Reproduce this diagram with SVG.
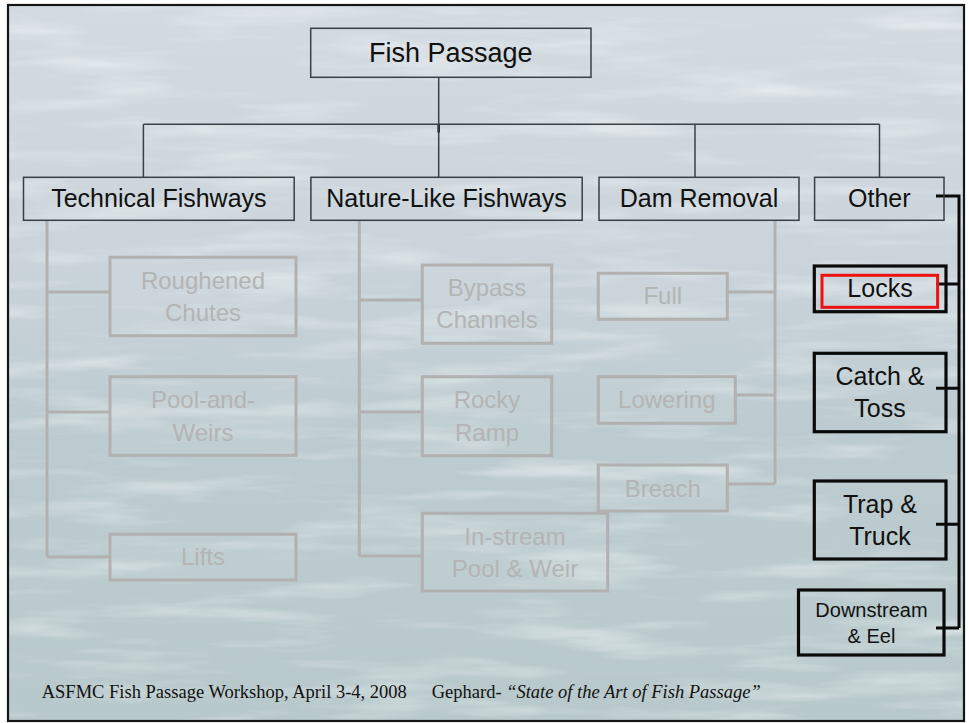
<svg xmlns="http://www.w3.org/2000/svg" width="969" height="723" viewBox="0 0 969 723">
  <defs>
    <linearGradient id="water" x1="0" y1="0" x2="0" y2="1">
      <stop offset="0" stop-color="#d3dbe1"/>
      <stop offset="0.35" stop-color="#cad4da"/>
      <stop offset="0.6" stop-color="#bccbcf"/>
      <stop offset="1" stop-color="#b8c9cb"/>
    </linearGradient>
    <filter id="ripple" x="0" y="0" width="100%" height="100%">
      <feTurbulence type="fractalNoise" baseFrequency="0.006 0.05" numOctaves="4" seed="7" result="n"/>
      <feColorMatrix in="n" type="matrix" values="0 0 0 0 1  0 0 0 0 1  0 0 0 0 1  0 0 0 2.2 -1.05" result="a"/>
      <feComposite in="a" in2="SourceGraphic" operator="in"/>
    </filter>
    <style>
      .top rect { fill: none; stroke: #3a3f44; stroke-width: 1.5; }
      .top text { font-family: "Liberation Sans", Arial, sans-serif; font-size: 25px; fill: #111; text-anchor: middle; }
      .gray rect { fill: #ffffff; fill-opacity: 0.06; stroke: #b1b1b1; stroke-width: 3; }
      .gray text { font-family: "Liberation Sans", Arial, sans-serif; font-size: 24px; fill: #b4b4b4; text-anchor: middle; }
      .blk rect { fill: none; stroke: #0a0a0a; stroke-width: 3.2; }
      .blk text { font-family: "Liberation Sans", Arial, sans-serif; font-size: 25px; fill: #111; text-anchor: middle; }
      .thin { stroke: #3a3f44; stroke-width: 1.5; fill: none; }
      .gline { stroke: #b1b1b1; stroke-width: 3; fill: none; }
      .bline { stroke: #0a0a0a; stroke-width: 3; fill: none; }
      .foot { font-family: "Liberation Serif", "Times New Roman", serif; font-size: 18.5px; fill: #111; }
    </style>
  </defs>

  <g id="background">
    <rect x="0" y="0" width="969" height="723" fill="#ffffff"/>
    <rect x="8" y="5" width="956" height="716" fill="url(#water)"/>
    <rect x="8" y="5" width="956" height="716" fill="#ffffff" opacity="0.45" filter="url(#ripple)"/>
    <rect x="8" y="5" width="956" height="716" fill="none" stroke="#151515" stroke-width="2.2"/>
  </g>

  <g id="connectors">
    <line class="thin" x1="438.7" y1="77.3" x2="438.7" y2="124.3"/>
    <line x1="438.7" y1="124.3" x2="438.7" y2="132.5" stroke="#111" stroke-width="2.5"/>
    <line class="thin" x1="143.4" y1="124.3" x2="879.5" y2="124.3"/>
    <line class="thin" x1="143.4" y1="124.3" x2="143.4" y2="177.3"/>
    <line class="thin" x1="438.7" y1="124.3" x2="438.7" y2="177.3"/>
    <line class="thin" x1="695" y1="124.3" x2="695" y2="177.3"/>
    <line class="thin" x1="879.5" y1="124.3" x2="879.5" y2="177.3"/>

    <path class="gline" d="M47 220.5 V557 M47 292 H110 M47 412 H110 M47 557 H110"/>
    <path class="gline" d="M359.3 220.5 V556 M359.3 300 H422.3 M359.3 412 H422.3 M359.3 556 H422.3"/>
    <path class="gline" d="M775 220.5 V484 M727.3 292 H775 M735.3 395 H775 M727.3 484 H775"/>

    <path class="bline" d="M936 196 H959 V628 M936 284 H959 M936 388.3 H959 M936 524.3 H959 M936 628 H959"/>
  </g>

  <g id="node-fish-passage" class="top">
    <rect x="310.7" y="28.3" width="280.3" height="49"/>
    <text x="450.8" y="62.3" style="font-size:27px">Fish Passage</text>
  </g>
  <g id="node-technical" class="top">
    <rect x="23.5" y="177.3" width="270.7" height="43"/>
    <text x="158.9" y="206.5">Technical Fishways</text>
  </g>
  <g id="node-nature" class="top">
    <rect x="310.9" y="177.3" width="271.3" height="43"/>
    <text x="446.5" y="206.5">Nature-Like Fishways</text>
  </g>
  <g id="node-dam" class="top">
    <rect x="599" y="177.3" width="200" height="43"/>
    <text x="699" y="206.5">Dam Removal</text>
  </g>
  <g id="node-other" class="top">
    <rect x="814.6" y="177.3" width="129.4" height="43"/>
    <text x="879.3" y="206.5">Other</text>
  </g>

  <g id="node-roughened" class="gray">
    <rect x="110" y="257.3" width="186" height="78.4"/>
    <text x="203" y="289.3">Roughened</text>
    <text x="203" y="320.7">Chutes</text>
  </g>
  <g id="node-pool-weirs" class="gray">
    <rect x="110" y="376.7" width="186" height="78.6"/>
    <text x="203" y="408.3">Pool-and-</text>
    <text x="203" y="440.7">Weirs</text>
  </g>
  <g id="node-lifts" class="gray">
    <rect x="110" y="534.3" width="186" height="45.7"/>
    <text x="203" y="565">Lifts</text>
  </g>

  <g id="node-bypass" class="gray">
    <rect x="422.3" y="265" width="129.4" height="78.3"/>
    <text x="487" y="295.7">Bypass</text>
    <text x="487" y="328.3">Channels</text>
  </g>
  <g id="node-rocky" class="gray">
    <rect x="422.3" y="376.7" width="129.4" height="79"/>
    <text x="487" y="407.7">Rocky</text>
    <text x="487" y="440.7">Ramp</text>
  </g>
  <g id="node-instream" class="gray">
    <rect x="422.3" y="513.3" width="185.4" height="77.7"/>
    <text x="515" y="545">In-stream</text>
    <text x="515" y="576.7">Pool &amp; Weir</text>
  </g>

  <g id="node-full" class="gray">
    <rect x="598.3" y="273.3" width="129" height="46"/>
    <text x="662.8" y="304">Full</text>
  </g>
  <g id="node-lowering" class="gray">
    <rect x="598.3" y="376.7" width="137" height="46.6"/>
    <text x="666.8" y="408.3">Lowering</text>
  </g>
  <g id="node-breach" class="gray">
    <rect x="598.3" y="465" width="129" height="46"/>
    <text x="662.8" y="496.7">Breach</text>
  </g>

  <g id="node-locks" class="blk">
    <rect x="814.3" y="266" width="131.7" height="45.7"/>
    <rect x="822" y="275.3" width="115.6" height="32" style="stroke:#ee1111;stroke-width:3"/>
    <text x="880" y="296.7">Locks</text>
  </g>
  <g id="node-catch" class="blk">
    <rect x="814.3" y="353.3" width="131.7" height="78.4"/>
    <text x="880" y="385">Catch &amp;</text>
    <text x="880" y="416.7">Toss</text>
  </g>
  <g id="node-trap" class="blk">
    <rect x="814.3" y="481" width="131.7" height="78"/>
    <text x="880" y="513.3">Trap &amp;</text>
    <text x="880" y="545">Truck</text>
  </g>
  <g id="node-downstream" class="blk">
    <rect x="798.5" y="590" width="145.5" height="65"/>
    <text x="871.5" y="616.7" style="font-size:20px">Downstream</text>
    <text x="871.5" y="642.7" style="font-size:20px">&amp; Eel</text>
  </g>

  <g id="footer">
    <text class="foot" x="41.7" y="698.3">ASFMC Fish Passage Workshop, April 3-4, 2008</text>
    <text class="foot" x="431.7" y="698.3">Gephard- <tspan font-style="italic">“State of the Art of Fish Passage”</tspan></text>
  </g>
</svg>
